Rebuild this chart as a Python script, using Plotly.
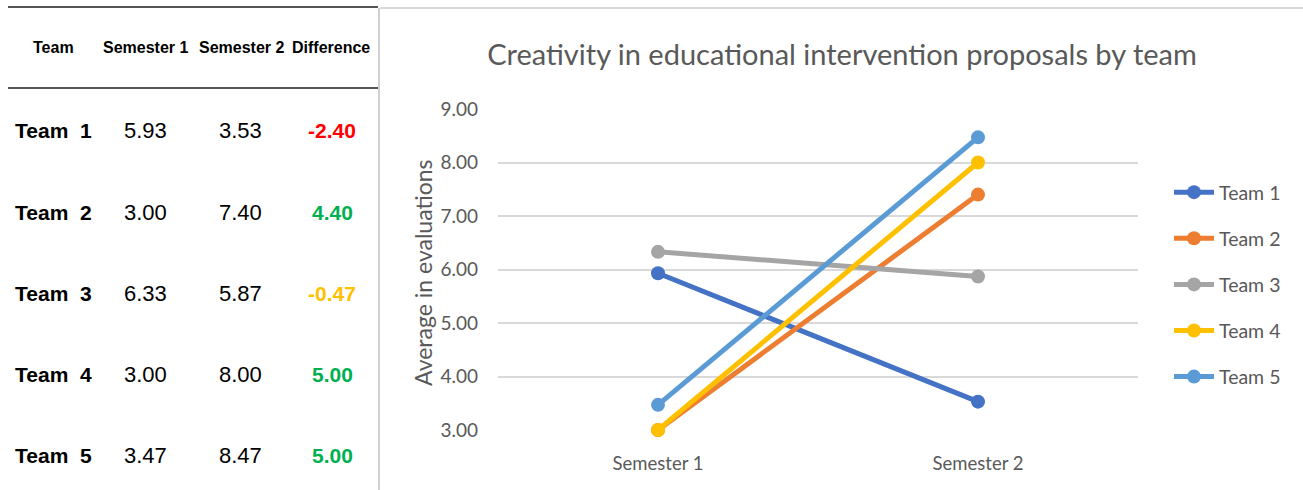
import plotly.graph_objects as go

teams = ["Team 1", "Team 2", "Team 3", "Team 4", "Team 5"]
semesters = ["Semester 1", "Semester 2"]
sem1 = [5.93, 3.00, 6.33, 3.00, 3.47]
sem2 = [3.53, 7.40, 5.87, 8.00, 8.47]
diff = [-2.40, 4.40, -0.47, 5.00, 5.00]
diff_labels = ["-2.40", "4.40", "-0.47", "5.00", "5.00"]
diff_colors = ["#FF0000", "#00B050", "#FFC000", "#00B050", "#00B050"]
line_colors = ["#4472C4", "#ED7D31", "#A5A5A5", "#FFC000", "#5B9BD5"]
y_ticks = [3, 4, 5, 6, 7, 8, 9]
y_tick_labels = ["3.00", "4.00", "5.00", "6.00", "7.00", "8.00", "9.00"]

W, H = 1303, 490
CH_FONT = "Lato"
TB_FONT = "Liberation Sans"
GRAY = "#595959"


def px(x):
    return x / W


def py(y):
    return 1 - y / H


fig = go.Figure()
for i, t in enumerate(teams):
    fig.add_trace(go.Scatter(
        x=semesters, y=[sem1[i], sem2[i]], name=t, mode="lines+markers",
        line=dict(color=line_colors[i], width=5),
        marker=dict(color=line_colors[i], size=14),
        legendgroup=t, cliponaxis=False,
    ))

annotations = []
hdr = [("Team", 54), ("Semester 1", 145), ("Semester 2", 241), ("Difference", 331)]
for text, x in hdr:
    annotations.append(dict(x=px(x), y=py(48), xref="paper", yref="paper", text="<b>%s</b>" % text,
                            showarrow=False, xanchor="center", yanchor="middle",
                            font=dict(family=TB_FONT, size=16, color="#000000")))
row_y = [130, 212, 293, 374, 455]
for i, t in enumerate(teams):
    yy = py(row_y[i])
    annotations.append(dict(x=px(13), y=yy, xref="paper", yref="paper",
                            text="<b>%s</b>" % t.replace(" ", "&nbsp;&nbsp;"),
                            showarrow=False, xanchor="left", yanchor="middle",
                            font=dict(family=TB_FONT, size=21, color="#000000")))
    annotations.append(dict(x=px(145), y=yy, xref="paper", yref="paper", text="%.2f" % sem1[i],
                            showarrow=False, xanchor="center", yanchor="middle",
                            font=dict(family=TB_FONT, size=22, color="#000000")))
    annotations.append(dict(x=px(240), y=yy, xref="paper", yref="paper", text="%.2f" % sem2[i],
                            showarrow=False, xanchor="center", yanchor="middle",
                            font=dict(family=TB_FONT, size=22, color="#000000")))
    annotations.append(dict(x=px(332), y=yy, xref="paper", yref="paper", text="<b>%s</b>" % diff_labels[i],
                            showarrow=False, xanchor="center", yanchor="middle",
                            font=dict(family=TB_FONT, size=21, color=diff_colors[i])))

annotations.append(dict(x=px(423), y=py(273), xref="paper", yref="paper", text="Average in evaluations",
                        textangle=-90, showarrow=False, xanchor="center", yanchor="middle",
                        font=dict(family=CH_FONT, size=23, color=GRAY)))

shapes = [
    dict(type="line", xref="paper", yref="paper", x0=px(8), x1=px(378), y0=py(7), y1=py(7),
         line=dict(color="#555555", width=2)),
    dict(type="line", xref="paper", yref="paper", x0=px(8), x1=px(378), y0=py(88), y1=py(88),
         line=dict(color="#555555", width=2)),
    dict(type="line", xref="paper", yref="paper", x0=px(379), x1=px(379), y0=py(8), y1=py(490),
         line=dict(color="#D0D0D0", width=2)),
    dict(type="line", xref="paper", yref="paper", x0=px(380), x1=px(1303), y0=py(8), y1=py(8),
         line=dict(color="#D9D9D9", width=2)),
]

fig.update_layout(
    width=W, height=H,
    margin=dict(l=0, r=0, t=0, b=0),
    paper_bgcolor="white", plot_bgcolor="white",
    showlegend=True,
    title=dict(text="Creativity in educational intervention proposals by team",
               x=px(842), xanchor="center", y=py(55), yanchor="middle",
               font=dict(family=CH_FONT, size=29, color=GRAY)),
    xaxis=dict(domain=[px(498), px(1138)], range=[-0.5, 1.5], type="category",
               showgrid=False, zeroline=False, showline=False, ticks="", automargin=False,
               tickfont=dict(family=CH_FONT, size=18.5, color=GRAY), ticklabelstandoff=20),
    yaxis=dict(domain=[py(430), py(109)], range=[3, 9], tickvals=y_ticks, ticktext=y_tick_labels,
               showgrid=True, gridcolor="#D9D9D9", gridwidth=1.5, zeroline=False, showline=False,
               ticks="", automargin=False,
               tickfont=dict(family=CH_FONT, size=19, color=GRAY), ticklabelstandoff=19),
    legend=dict(x=px(1169), y=py(173), xanchor="left", yanchor="top",
                font=dict(family=CH_FONT, size=19.5, color=GRAY), tracegroupgap=17.75,
                itemwidth=40, bgcolor="rgba(0,0,0,0)"),
    annotations=annotations,
    shapes=shapes,
)

fig.write_html("out.html")
